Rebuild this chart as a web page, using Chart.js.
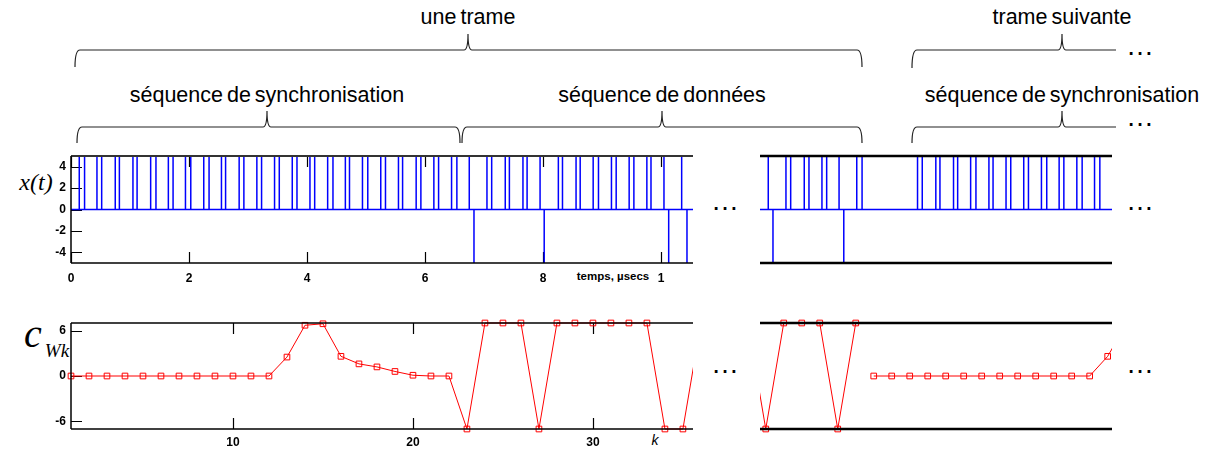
<!DOCTYPE html>
<html>
<head>
<meta charset="utf-8">
<script src="https://cdn.jsdelivr.net/npm/chart.js@4.4.0/dist/chart.umd.min.js"></script>
<style>
body { margin: 0; background: #fff; }
#page { position: relative; width: 1210px; height: 450px; overflow: hidden; font-family: "Liberation Sans", Arial, sans-serif; }
canvas { position: absolute; }
svg { position: absolute; left: 0; top: 0; }
.lbl { position: absolute; transform: translate(-50%, -50%); white-space: nowrap; color: #000; line-height: 1; }
.row { font-size: 21.5px; word-spacing: -2px; }
.dots { font-size: 28px; }
.serif { font-family: "Liberation Serif", "Times New Roman", serif; font-style: italic; }
</style>
</head>
<body>
<div id="page">
  <svg id="braces" width="1210" height="150"></svg>
  <div class="lbl row" style="left:468px;top:18px">une trame</div>
  <div class="lbl row" style="left:1062px;top:18px">trame suivante</div>
  <div class="lbl row" style="left:267px;top:96px">séquence de synchronisation</div>
  <div class="lbl row" style="left:662px;top:96px">séquence de données</div>
  <div class="lbl row" style="left:1062px;top:96px">séquence de synchronisation</div>
  <div class="lbl dots" style="left:1140px;top:46px">…</div>
  <div class="lbl dots" style="left:1140px;top:117px">…</div>
  <div class="lbl dots" style="left:725px;top:201px">…</div>
  <div class="lbl dots" style="left:1140px;top:201px">…</div>
  <div class="lbl dots" style="left:725px;top:364px">…</div>
  <div class="lbl dots" style="left:1140px;top:364px">…</div>

  <div class="lbl serif" style="left:36px;top:182px;font-size:24px">x(t)</div>
  <div class="lbl serif" style="left:33px;top:334px;font-size:40px">c</div>
  <div class="lbl serif" style="left:57px;top:350px;font-size:19px">Wk</div>
  <div class="lbl" style="left:613px;top:277px;font-size:11.5px;font-weight:bold">temps, µsecs</div>
  <div class="lbl" style="left:655px;top:440px;font-size:14px;font-style:italic">k</div>

  <canvas id="sigLeft" width="700" height="150" style="left:0;top:140px"></canvas>
  <canvas id="sigRight" width="370" height="150" style="left:750px;top:140px"></canvas>
  <canvas id="corrLeft" width="700" height="145" style="left:0;top:305px"></canvas>
  <canvas id="corrRight" width="370" height="145" style="left:750px;top:305px"></canvas>
</div>
<script>
// x(t): pulse edges (µs) and level, first frame
const riseLeft = [0.14, 0.44, 0.75, 1.05, 1.35, 1.65, 1.94, 2.25, 2.55, 2.85, 3.15, 3.45, 3.75, 4.05, 4.35, 4.65, 4.94, 5.25,
                  5.55, 5.85, 6.15, 6.45, 6.75, 6.83, 7.05, 7.36, 7.66, 7.95, 8.02, 8.26, 8.56, 8.85, 9.16, 9.46, 9.76, 10.05, 10.13, 10.35, 10.44];
const fallLeft = [0.23, 0.52, 0.82, 1.12, 1.44, 1.73, 2.03, 2.34, 2.62, 2.93, 3.23, 3.53, 3.83, 4.13, 4.44, 4.72, 5.03, 5.33,
                  5.62, 5.93, 6.23, 6.54, 6.75, 6.83, 7.13, 7.43, 7.73, 7.95, 8.02, 8.33, 8.63, 8.94, 9.24, 9.54, 9.83, 10.05, 10.13, 10.35, 10.44];
const levelLeft = [5, 5, 5, 5, 5, 5, 5, 5, 5, 5, 5, 5, 5, 5, 5, 5, 5, 5,
                   5, 5, 5, 5, 5, -5, 5, 5, 5, 5, -5, 5, 5, 5, 5, 5, 5, 5, -5, 5, -5];

// x(t): end of the data sequence and next frame
const riseRight = [11.84, 11.92, 12.14, 12.45, 12.75, 13.04, 13.12, 13.34, 14.37, 14.68, 14.98, 15.27, 15.58, 15.87, 16.17, 16.47, 16.77, 17.07, 17.37];
const fallRight = [11.84, 11.92, 12.22, 12.53, 12.83, 13.04, 13.12, 13.43, 14.45, 14.75, 15.05, 15.36, 15.65, 15.95, 16.25, 16.56, 16.85, 17.16, 17.46];
const levelRight = [5, -5, 5, 5, 5, 5, -5, 5, 5, 5, 5, 5, 5, 5, 5, 5, 5, 5, 5];

// c_Wk per frame k
const kLeft = [1, 2, 3, 4, 5, 6, 7, 8, 9, 10, 11, 12, 13, 14, 15, 16, 17, 18, 19, 20, 21, 22, 23, 24, 25, 26, 27, 28, 29, 30, 31, 32, 33, 34, 35, 36];
const cLeft = [0, 0, 0, 0, 0, 0, 0, 0, 0, 0, 0, 0, 2.5, 6.7, 6.9, 2.6, 1.6, 1.2, 0.6, 0.1, 0, 0, -7, 7, 7, 7, -7, 7, 7, 7, 7, 7, 7, -7, -7, 7];
const kTail = [39, 40, 41, 42, 43, 44, 45];
const cTail = [7, -7, 7, 7, 7, -7, 7];
const kNext = [46, 47, 48, 49, 50, 51, 52, 53, 54, 55, 56, 57, 58, 59, 60];
const cNext = [0, 0, 0, 0, 0, 0, 0, 0, 0, 0, 0, 0, 0, 2.6, 6.7];

// tick values
const tTicks = [0, 2, 4, 6, 8, 10];
const xLevelTicks = [-4, -2, 0, 2, 4];
const kTicks = [10, 20, 30];
const cTicks = [-6, 0, 6];

// braces above the plots
const braces = [
    {x0: 75, x1: 862, xt: 468, y: 50, tip: 34, end: 67, open: false},
    {x0: 77, x1: 460, xt: 267, y: 127, tip: 111, end: 143, open: false},
    {x0: 462, x1: 862, xt: 662, y: 127, tip: 111, end: 143, open: false},
    {x0: 912, x1: 1116, xt: 1062, y: 50, tip: 34, end: 68, open: true},
    {x0: 912, x1: 1116, xt: 1062, y: 127, tip: 111, end: 143, open: true}
];
var svg = document.getElementById('braces');
braces.forEach(function(b) {
    var d = 'M' + b.x0 + ',' + b.end + ' Q' + b.x0 + ',' + b.y + ' ' + (b.x0 + 5) + ',' + b.y +
        ' L' + (b.xt - 4) + ',' + b.y + ' Q' + b.xt + ',' + b.y + ' ' + b.xt + ',' + b.tip +
        ' Q' + b.xt + ',' + b.y + ' ' + (b.xt + 4) + ',' + b.y;
    if (b.open) d += ' L' + b.x1 + ',' + b.y;
    else d += ' L' + (b.x1 - 5) + ',' + b.y + ' Q' + b.x1 + ',' + b.y + ' ' + b.x1 + ',' + b.end;
    var p = document.createElementNS('http://www.w3.org/2000/svg', 'path');
    p.setAttribute('d', d);
    p.setAttribute('fill', 'none');
    p.setAttribute('stroke', '#222');
    p.setAttribute('stroke-width', '1.2');
    svg.appendChild(p);
});

// each edge of a pulse is drawn as a stroke from 0 to its level, the top of the
// pulse sits under the box line so only the edges and the 0 line show
function pulseTrace(rise, fall, level, t0, t1) {
    var pts = [{x: t0, y: 0}];
    rise.forEach(function(a, i) {
        pts.push({x: a, y: 0}, {x: a, y: level[i]}, {x: a, y: 0});
        if (fall[i] !== a) pts.push({x: fall[i], y: 0}, {x: fall[i], y: level[i]}, {x: fall[i], y: 0});
    });
    pts.push({x: t1, y: 0});
    return pts;
}
function xy(xs, ys) {
    return xs.map(function(v, i) { return {x: v, y: ys[i]}; });
}

// inward ticks + box lines drawn like the matlab axes
var boxFrame = {
    id: 'boxFrame',
    beforeDatasetsDraw: function(chart, args, o) {
        var ctx = chart.ctx, a = chart.chartArea, len = 11;
        ctx.save();
        ctx.strokeStyle = '#000';
        ctx.lineWidth = 1.2;
        ctx.beginPath();
        if (o.xTicks) chart.scales.x.ticks.forEach(function(t) {
            var px = Math.round(chart.scales.x.getPixelForValue(t.value)) + 0.5;
            ctx.moveTo(px, a.top); ctx.lineTo(px, a.top + len);
            ctx.moveTo(px, a.bottom); ctx.lineTo(px, a.bottom - len);
        });
        if (o.yTicks) chart.scales.y.ticks.forEach(function(t) {
            var py = Math.round(chart.scales.y.getPixelForValue(t.value)) + 0.5;
            ctx.moveTo(a.left, py); ctx.lineTo(a.left + len, py);
        });
        ctx.stroke();
        ctx.restore();
    },
    afterDatasetsDraw: function(chart, args, o) {
        var ctx = chart.ctx, a = chart.chartArea;
        ctx.save();
        function seg(s, x1, y1, x2, y2) {
            if (!s) return;
            ctx.strokeStyle = s.color;
            ctx.lineWidth = s.width;
            ctx.beginPath(); ctx.moveTo(x1, y1); ctx.lineTo(x2, y2); ctx.stroke();
        }
        seg(o.top, a.left, a.top, a.right, a.top);
        seg(o.bottom, a.left, a.bottom, a.right, a.bottom);
        seg(o.left, a.left, a.top, a.left, a.bottom);
        ctx.restore();
    }
};

var tickFont = {family: '"Liberation Sans", Arial, sans-serif', size: 12, weight: 'bold'};

function plot(id, datasets, o) {
    return new Chart(document.getElementById(id), {
        type: 'line',
        data: {datasets: datasets},
        plugins: [boxFrame],
        options: {
            responsive: false,
            animation: false,
            devicePixelRatio: 1,
            layout: {padding: o.pad},
            plugins: {legend: {display: false}, tooltip: {enabled: false}, boxFrame: o.frame},
            scales: {
                x: {
                    type: 'linear', min: o.xmin, max: o.xmax, display: o.axes,
                    grid: {display: false, drawTicks: false}, border: {display: false},
                    afterFit: function(s) { if (o.axes) s.height = o.xh; },
                    afterBuildTicks: function(s) { s.ticks = o.xt.map(function(v) { return {value: v}; }); },
                    ticks: {font: tickFont, color: '#000', padding: o.xpad || 7, maxRotation: 0, autoSkip: false,
                            callback: o.xlabel || function(v) { return v; }}
                },
                y: {
                    type: 'linear', min: o.ymin, max: o.ymax, display: o.axes,
                    grid: {display: false, drawTicks: false}, border: {display: false},
                    afterFit: function(s) { if (o.axes) s.width = 71; },
                    afterBuildTicks: function(s) { s.ticks = o.yt.map(function(v) { return {value: v}; }); },
                    ticks: {font: tickFont, color: '#000', padding: 5, autoSkip: false}
                }
            }
        }
    });
}

var blue = {borderColor: '#0000ff', borderWidth: 1.5, pointRadius: 0, fill: false, tension: 0};
var red = {borderColor: '#ff0000', borderWidth: 1, pointStyle: 'rect', pointRadius: 4, pointBorderWidth: 1,
           pointBorderColor: '#ff0000', pointBackgroundColor: 'rgba(255,255,255,0)', fill: false, tension: 0};

// x(t) left part
plot('sigLeft', [Object.assign({data: pulseTrace(riseLeft, fallLeft, levelLeft, 0, 10.55)}, blue)], {
    pad: {top: 16, right: 7, left: 0, bottom: 0}, axes: true, xh: 27, xpad: 8,
    xmin: 0, xmax: 10.542, ymin: -5, ymax: 5, xt: tTicks, yt: xLevelTicks,
    xlabel: function(v) { return v === 10 ? '1' : v; }, // the "0" of 10 is cut in the original
    frame: {xTicks: true, yTicks: true, top: {color: '#333', width: 2}, bottom: {color: '#000', width: 1.5}, left: {color: '#000', width: 1.5}}
});

// x(t) right part
plot('sigRight', [Object.assign({data: pulseTrace(riseRight, fallRight, levelRight, 11.7, 17.7)}, blue)], {
    pad: {top: 16, right: 8, left: 10, bottom: 27}, axes: false,
    xmin: 11.7, xmax: 17.666, ymin: -5, ymax: 5, xt: [], yt: [],
    frame: {top: {color: '#000', width: 2.5}, bottom: {color: '#000', width: 2.5}}
});

// c_Wk left part
plot('corrLeft', [Object.assign({data: xy(kLeft, cLeft), clip: {left: 6, right: 0, top: 6, bottom: 6}}, red)], {
    pad: {top: 18, right: 7, left: 0, bottom: 0}, axes: true, xh: 21, xpad: 6,
    xmin: 1, xmax: 35.56, ymin: -7, ymax: 7, xt: kTicks, yt: cTicks,
    frame: {xTicks: true, yTicks: true, top: {color: '#000', width: 1.5}, bottom: {color: '#000', width: 1.5}, left: {color: '#000', width: 1.5}}
});

// c_Wk right part
plot('corrRight', [
    Object.assign({data: xy(kTail, cTail), clip: {left: 0, right: 0, top: 6, bottom: 6}}, red),
    Object.assign({data: xy(kNext, cNext), clip: {left: 0, right: 0, top: 6, bottom: 6}}, red)
], {
    pad: {top: 18, right: 8, left: 10, bottom: 21}, axes: false,
    xmin: 39.68, xmax: 59.24, ymin: -7, ymax: 7, xt: [], yt: [],
    frame: {top: {color: '#000', width: 2.5}, bottom: {color: '#000', width: 2.5}}
});
</script>
</body>
</html>
